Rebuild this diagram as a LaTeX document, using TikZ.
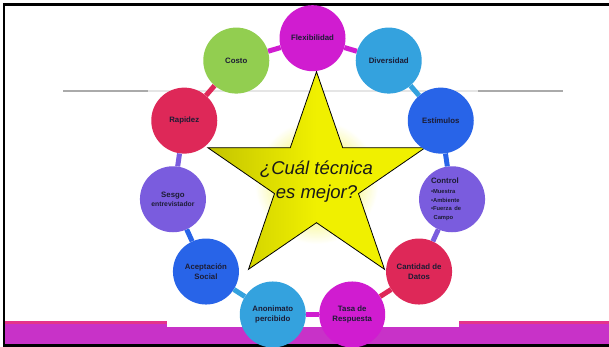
\documentclass[tikz,border=0pt]{standalone}
\usepackage{fontspec}
\setmainfont{Liberation Sans}
\usepackage{tikz}
\usetikzlibrary{calc}
\definecolor{textColor}{RGB}{28, 28, 52}
\definecolor{flexColor}{RGB}{208, 28, 208}
\definecolor{skyColor}{RGB}{52, 162, 222}
\definecolor{blueColor}{RGB}{40, 100, 232}
\definecolor{violetColor}{RGB}{122, 92, 222}
\definecolor{crimsonColor}{RGB}{222, 40, 88}
\definecolor{greenColor}{RGB}{146, 206, 80}
\definecolor{starFill}{RGB}{240, 240, 0}
\definecolor{starShade}{RGB}{196, 196, 0}
\definecolor{bandColor}{RGB}{200, 50, 200}
\definecolor{stripeColor}{RGB}{228, 52, 140}
\definecolor{ruleColor}{RGB}{170, 170, 170}
\tikzset{
    topic_node/.style={
        circle,
        minimum size=66pt,
        inner sep=1pt,
        text=textColor,
        align=center,
        font=\fontsize{7.8}{10}\selectfont\bfseries
    },
    ring_link/.style={
        line width=5pt
    },
    star_shape/.style={
        draw=black,
        line width=0.8pt,
        left color=starShade,
        right color=starFill,
        middle color=starFill
    }
}

\begin{document}
\begin{tikzpicture}[x=1pt, y=1pt]
    \useasboundingbox (0,0) rectangle (609,347);
    \fill[white] (0,0) rectangle (609,347);

    % band and rule
    \fill[bandColor] (4,2) rectangle (609,26);
    \fill[stripeColor] (4,23) rectangle (609,26);
    \fill[white] (167,20.3) rectangle (459,27);
    \draw[ruleColor, line width=1.2pt] (63,256) -- (563,256);
    \draw[black!10, line width=1.4pt] (148,256) -- (478,256);
    \draw[line width=2.5pt] (609,342.5) -- (4,342.5) -- (4,1.5) -- (609,1.5);

    % star
    \shade[inner color=starFill, outer color=white] (316.5,165) circle (62);
    \path[star_shape] (316.5,275.3) -- (342.7,199.3) -- (425.2,199.3)
        -- (358.5,153.4) -- (384.5,77.7) -- (316.5,124.3) -- (248.5,77.7)
        -- (274.5,153.4) -- (207.8,199.3) -- (290.3,199.3) -- cycle;
    \node[text=black!90, align=center, font=\fontsize{18.5}{24}\selectfont\itshape]
        (question) at (316.5,165) {¿Cuál técnica\\es mejor?};

    % ring of topics
    \coordinate (ring) at (312.5,167.8);
    \node[topic_node, fill=flexColor] (flex) at ($(ring)+(90:141)$) {Flexibilidad};
    \node[topic_node, fill=skyColor] (diver) at ($(ring)+(57.27:141)$) {Diversidad};
    \node[topic_node, fill=blueColor] (stim) at ($(ring)+(24.55:141)$) {Estímulos};
    \node[topic_node, fill=violetColor, text width=42pt, align=left] (control)
        at ($(ring)+(-8.18:141)$)
        {Control\\[2pt]\fontsize{5.8}{8.5}\selectfont •Muestra\\•Ambiente\\•Fuerza de\\[-1.5pt]\hspace*{2.5pt}Campo};
    \node[topic_node, fill=crimsonColor] (amount) at ($(ring)+(-40.91:141)$) {Cantidad de\\Datos};
    \node[topic_node, fill=flexColor] (rate) at ($(ring)+(-73.64:141)$) {Tasa de\\Respuesta};
    \node[topic_node, fill=skyColor] (anon) at ($(ring)+(253.64:141)$) {Anonimato\\percibido};
    \node[topic_node, fill=blueColor] (social) at ($(ring)+(220.91:141)$) {Aceptación\\Social};
    \node[topic_node, fill=violetColor] (bias) at ($(ring)+(188.18:141)$)
        {Sesgo\\[-1pt]{\fontsize{6.8}{8}\selectfont entrevistador}};
    \node[topic_node, fill=crimsonColor] (speed) at ($(ring)+(155.45:141)$) {Rapidez};
    \node[topic_node, fill=greenColor] (cost) at ($(ring)+(122.73:141)$) {Costo};

    \draw[ring_link, draw=flexColor] (cost) -- (flex);
    \draw[ring_link, draw=flexColor] (flex) -- (diver);
    \draw[ring_link, draw=skyColor] (diver) -- (stim);
    \draw[ring_link, draw=blueColor] (stim) -- (control);
    \draw[ring_link, draw=violetColor] (control) -- (amount);
    \draw[ring_link, draw=crimsonColor] (amount) -- (rate);
    \draw[ring_link, draw=flexColor] (rate) -- (anon);
    \draw[ring_link, draw=skyColor] (anon) -- (social);
    \draw[ring_link, draw=blueColor] (social) -- (bias);
    \draw[ring_link, draw=violetColor] (bias) -- (speed);
    \draw[ring_link, draw=crimsonColor] (speed) -- (cost);
\end{tikzpicture}
\end{document}
